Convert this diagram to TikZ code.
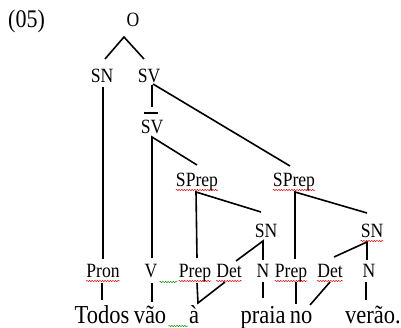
\documentclass[tikz,border=0pt]{standalone}
\usepackage{fontspec}
\setmainfont{Liberation Serif}
\usetikzlibrary{calc,decorations.pathmorphing}
\newcommand\vs[1]{\scalebox{1}[1.15]{#1}}
\begin{document}
\begin{tikzpicture}[x=1pt,y=-1pt,
  lab/.style={inner sep=0pt,anchor=base,font=\fontsize{17.6}{20}\selectfont},
  wd/.style={inner sep=0pt,anchor=base,font=\fontsize{22.5}{26}\selectfont},
  edge/.style={line width=1.6pt},
  spell/.style={draw=red!85!black,line width=0.5pt,decorate,decoration={snake,amplitude=0.6pt,segment length=2.6pt}},
  gspell/.style={draw=green!55!black,line width=0.5pt,decorate,decoration={snake,amplitude=0.6pt,segment length=2.6pt}}]
\useasboundingbox[fill=white] (0,0) rectangle (401,328);
% labels
\node[wd,anchor=base west,font=\fontsize{22}{26}\selectfont] (num) at (8,28) {\vs{(05)}};
\node[lab] (o) at (133,27) {\vs{O}};
\node[lab] (sn) at (102,83) {\vs{SN}};
\node[lab] (sv) at (149,83) {\vs{SV}};
\node[lab] (svb) at (152,134) {\vs{SV}};
\node[lab] (sp1) at (197,187) {\vs{SPrep}};
\node[lab] (sp2) at (294,187) {\vs{SPrep}};
\node[lab] (sn1) at (266,238) {\vs{SN}};
\node[lab] (sn2) at (372,238) {\vs{SN}};
\node[lab] (pron) at (103,278) {\vs{Pron}};
\node[lab] (v) at (151,278) {\vs{V}};
\node[lab] (prep1) at (195,278) {\vs{Prep}};
\node[lab] (det1) at (229,278) {\vs{Det}};
\node[lab] (n1) at (263,278) {\vs{N}};
\node[lab] (prep2) at (291,278) {\vs{Prep}};
\node[lab] (det2) at (330,278) {\vs{Det}};
\node[lab] (n2) at (369,278) {\vs{N}};
\node[wd] (todos) at (102,323) {\vs{Todos}};
\node[wd] (vao) at (150,323) {\vs{vão}};
\node[wd] (a) at (194,323) {\vs{à}};
\node[wd] (praia) at (263,323) {\vs{praia}};
\node[wd] (no) at (301,323) {\vs{no}};
\node[wd] (verao) at (373,323) {\vs{verão.}};
% bar over SV
\draw[edge] ($(svb.base)+(-8,-21)$) -- ($(svb.base)+(6,-21)$);
% connectors
\draw[edge] ($(sn.base)+(3,-24)$) -- ($(o.base)+(-9,10)$) -- ($(sv.base)+(-5,-24)$);
\draw[edge] ($(sn.base)+(1,4)$) -- ($(pron.base)+(0,-19)$);
\draw[edge] ($(sv.base)+(3,2)$) -- ($(svb.base)+(0,-27)$);
\draw[edge] ($(sv.base)+(4,1)$) -- ($(sp2.base)+(-4,-21)$);
\draw[edge] ($(v.base)+(1,-20)$) -- ($(svb.base)+(0,3)$) -- ($(sp1.base)+(0,-22)$);
\draw[edge] ($(prep1.base)+(2,-20)$) -- ($(sp1.base)+(-1,5)$) -- ($(sn1.base)+(-5,-26)$);
\draw[edge] ($(prep2.base)+(4,-19)$) -- ($(sp2.base)+(1,5)$) -- ($(sn2.base)+(-5,-25)$);
\draw[edge] ($(det1.base)+(7,-17)$) -- ($(sn1.base)+(-3,3)$) -- ($(n1.base)+(0,-18)$);
\draw[edge] ($(det2.base)+(4,-21)$) -- ($(sn2.base)+(-5,4)$) -- ($(n2.base)+(-2,-18)$);
\draw[edge] ($(pron.base)+(-1,5)$) -- ($(todos.base)+(0,-23)$);
\draw[edge] ($(v.base)+(1,5)$) -- ($(vao.base)+(2,-21)$);
\draw[edge] ($(prep1.base)+(2,5)$) -- ($(a.base)+(4,-20)$) -- ($(det1.base)+(-4,4)$);
\draw[edge] ($(n1.base)+(0,4)$) -- ($(praia.base)+(0,-25)$);
\draw[edge] ($(prep2.base)+(5,4)$) -- ($(no.base)+(-5,-19)$);
\draw[edge] ($(det2.base)+(0,4)$) -- ($(no.base)+(9,-18)$);
\draw[edge] ($(n2.base)+(-3,4)$) -- ($(verao.base)+(-7,-23)$);
% spelling marks
\foreach \n in {pron,prep1,det1,prep2,det2,sp1,sp2,sn2}
  \draw[spell] ($(\n.base west)+(0,3)$) -- ($(\n.base east)+(0,3)$);
\draw[gspell] ($(v.base east)+(2,4)$) -- ($(prep1.base west)+(-1,4)$);
\draw[gspell] ($(vao.base east)+(2,3)$) -- ($(a.base west)+(-1,3)$);
\end{tikzpicture}
\end{document}
